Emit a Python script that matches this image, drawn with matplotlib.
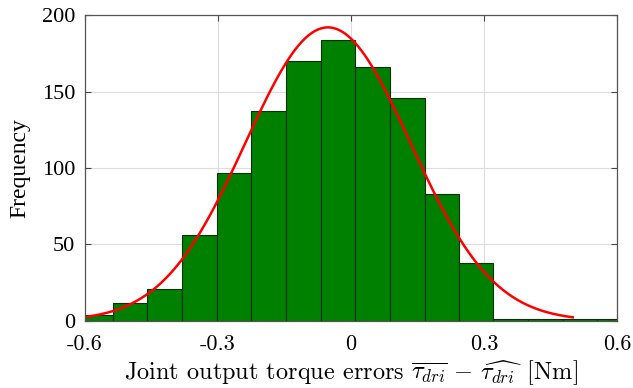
import matplotlib as mpl
mpl.use('Agg')
import numpy as np
import matplotlib.pyplot as plt

# histogram bins
bin_edges = [-0.615, -0.537, -0.459, -0.381, -0.303, -0.225, -0.146, -0.068,
             0.010, 0.088, 0.166, 0.243, 0.321, 0.399, 0.477, 0.555, 0.633]
counts = [4, 12, 21, 56, 97, 137, 170, 184, 166, 146, 83, 38, 1, 1, 1, 1]

# fitted normal curve
fit_mu = -0.052
fit_sigma = 0.186
fit_peak = 192
fit_range = [-0.594, 0.50]

xticks = [-0.6, -0.3, 0, 0.3, 0.6]
xtick_labels = ['-0.6', '-0.3', '0', '0.3', '0.6']
yticks = [0, 50, 100, 150, 200]

plt.rcParams['mathtext.fontset'] = 'cm'
plt.rcParams['font.family'] = ['Liberation Serif', 'DejaVu Serif']

fig = plt.figure(figsize=(6.33, 3.88), dpi=100)
ax = fig.add_axes([0.134, 0.173, 0.841, 0.788])

edges = np.array(bin_edges)
widths = np.diff(edges)
ax.bar(edges[:-1], counts, width=widths, align='edge',
       color='#008000', edgecolor='#0a300a', linewidth=0.8, zorder=2)

xs = np.linspace(fit_range[0], fit_range[1], 300)
ys = fit_peak * np.exp(-0.5 * ((xs - fit_mu) / fit_sigma) ** 2)
ax.plot(xs, ys, color='red', linewidth=1.8, zorder=3)

ax.set_xlim(-0.6, 0.6)
ax.set_ylim(0, 200)
ax.set_xticks(xticks)
ax.set_xticklabels(xtick_labels, fontfamily='cmr10', fontsize=16)
ax.set_yticks(yticks)
ax.tick_params(axis='y', labelsize=16, pad=7)
ax.tick_params(axis='x', pad=10)
ax.tick_params(direction='in', top=True, right=True, length=4, color='#444444')
ax.grid(True, color='#dddddd', linewidth=0.8, zorder=0)
ax.set_axisbelow(True)
for s in ax.spines.values():
    s.set_color('#555555')
    s.set_linewidth(0.9)
    s.set_zorder(4)

ax.set_ylabel('Frequency', fontsize=17, labelpad=8)
ax.set_xlabel(r'Joint output torque errors $\overline{\tau_{dri}}\, - \,\widehat{\tau_{dri}}\;\;$[Nm]',
              fontfamily='cmr10', fontsize=17.5, labelpad=3)

fig.savefig('out.png', dpi=100)
plt.close(fig)
